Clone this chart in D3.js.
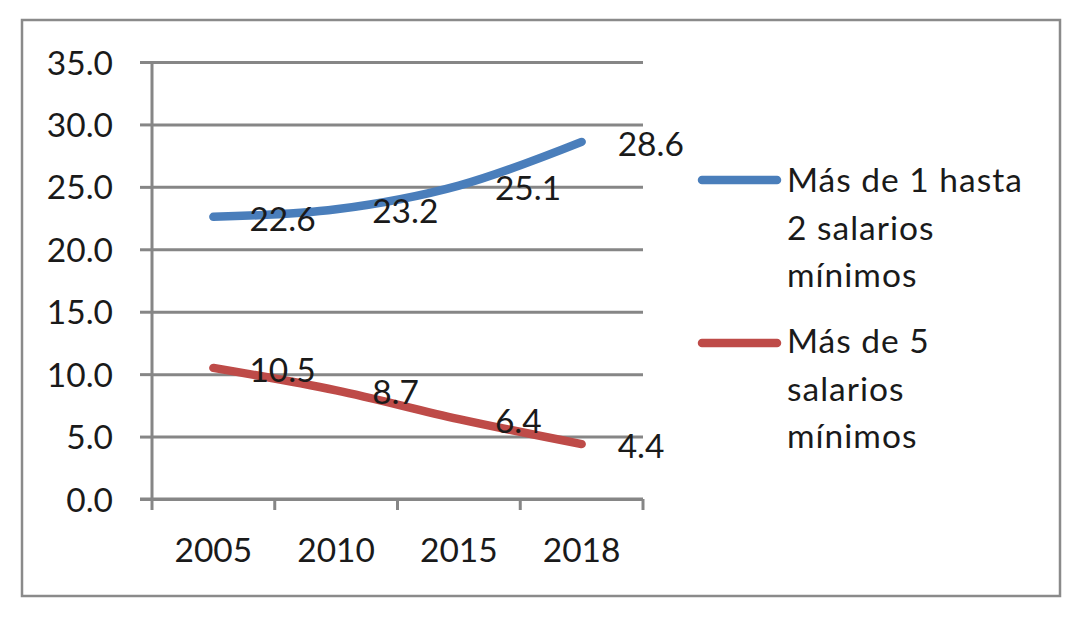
<!DOCTYPE html>
<html><head><meta charset="utf-8">
<script src="https://cdn.jsdelivr.net/npm/d3@7"></script>
<style>
html,body{margin:0;padding:0;background:#fff;}
svg{display:block;}
text{font-family:Lato,"Liberation Sans",sans-serif;fill:#1a1a1a;}
</style></head>
<body>
<svg id="c" width="1081" height="620"></svg>
<script>
const years = ["2005", "2010", "2015", "2018"];
const seriesA = [22.6, 23.2, 25.1, 28.6];
const seriesB = [10.5, 8.7, 6.4, 4.4];
const yTicks = [0, 5, 10, 15, 20, 25, 30, 35];
const legendA = ["Más de 1 hasta", "2 salarios", "mínimos"];
const legendB = ["Más de 5", "salarios", "mínimos"];
const colorA = "#4a7ebb";
const colorB = "#be4b48";

const svg = d3.select("#c");
const fs = 33.5;
const gray = "#868686";

svg.append("rect").attr("x", 22).attr("y", 20).attr("width", 1038).attr("height", 576)
  .attr("fill", "#fff").attr("stroke", "#8a8a8a").attr("stroke-width", 2.5);

const x = d3.scaleBand().domain(years).range([152, 643]);
const y = d3.scaleLinear().domain([0, 35]).range([499, 62]);
const cx = d => x(d) + x.bandwidth() / 2;

// gridlines
const grid = svg.append("g").attr("transform", "translate(152,0)")
  .call(d3.axisLeft(y).tickValues(yTicks).tickSize(-(643 - 152)).tickFormat(""));
grid.select(".domain").remove();
grid.selectAll("line").attr("stroke", gray).attr("stroke-width", 3);

// y axis
const ya = svg.append("g").attr("transform", "translate(152,0)")
  .call(d3.axisLeft(y).tickValues(yTicks).tickSize(12).tickPadding(27).tickFormat(d3.format(".1f")));
ya.select(".domain").attr("stroke", gray).attr("stroke-width", 3).attr("d", "M0,62V499");
ya.selectAll("line").attr("stroke", gray).attr("stroke-width", 3);
ya.selectAll("text").attr("font-size", fs).attr("font-family", "Lato,'Liberation Sans',sans-serif").attr("fill", "#1a1a1a").attr("dy", "0.36em");

// x axis
const xTickPos = [152].concat(years.map(d => x(d) + x.bandwidth()));
const xa = svg.append("g");
xa.append("line").attr("x1", 140).attr("x2", 643).attr("y1", 499).attr("y2", 499)
  .attr("stroke", gray).attr("stroke-width", 3);
xa.selectAll(".tk").data(xTickPos).join("line").attr("class", "tk")
  .attr("x1", d => d).attr("x2", d => d).attr("y1", 499).attr("y2", 510)
  .attr("stroke", gray).attr("stroke-width", 3);
xa.selectAll(".lb").data(years).join("text").attr("class", "lb")
  .attr("x", d => cx(d)).attr("y", 562).attr("text-anchor", "middle").attr("font-size", fs).text(d => d);

const line = d3.line().x((d, i) => cx(years[i])).y(d => y(d)).curve(d3.curveCatmullRom.alpha(0));

function drawSeries(vals, color) {
  svg.append("path").datum(vals).attr("d", line).attr("fill", "none")
    .attr("stroke", color).attr("stroke-width", 8.5).attr("stroke-linecap", "round").attr("stroke-linejoin", "round");
}
function drawLabels(vals) {
  svg.append("g").selectAll("text").data(vals).join("text")
    .attr("x", (d, i) => cx(years[i]) + 36).attr("y", d => y(d) + 14)
    .attr("font-size", fs).text(d => d.toFixed(1));
}
drawSeries(seriesA, colorA);
drawSeries(seriesB, colorB);
drawLabels(seriesA);
drawLabels(seriesB);

// legend
function legend(lines, color, ly, base) {
  svg.append("line").attr("x1", 702).attr("x2", 777).attr("y1", ly).attr("y2", ly)
    .attr("stroke", color).attr("stroke-width", 8.5).attr("stroke-linecap", "round");
  svg.append("g").selectAll("text").data(lines).join("text")
    .attr("x", 787).attr("y", (d, i) => base + i * 47.5).attr("font-size", fs)
    .attr("letter-spacing", 1).text(d => d);
}
legend(legendA, colorA, 180, 192);
legend(legendB, colorB, 343, 353);
</script>
</body></html>
